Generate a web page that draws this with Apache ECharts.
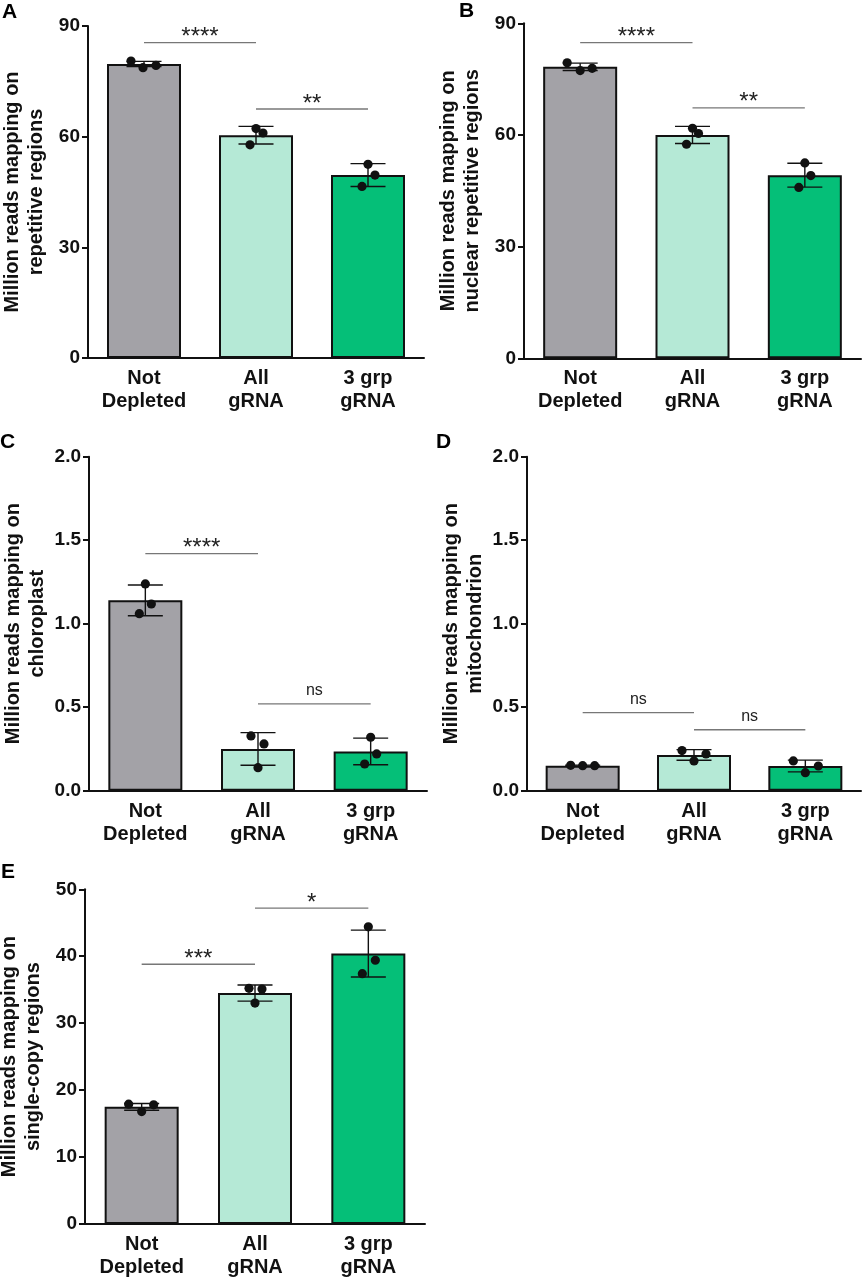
<!DOCTYPE html>
<html lang="en">
<head>
<meta charset="UTF-8" />
<script src="https://cdn.jsdelivr.net/npm/echarts@6/dist/echarts.min.js"></script>
<style>
    html, body { margin: 0; padding: 0; background: #fff; }
    #chart { width: 867px; height: 1280px; }
</style>
</head>
<body>
<div id="chart"></div>
<script>
const categories = ["Not\nDepleted", "All\ngRNA", "3 grp\ngRNA"];

// A - repetitive regions
const meanA = [79.7, 60.4, 49.6];
const sdA = [0.7, 2.4, 3.1];
const pointsA = [[80.5, 78.7, 79.3], [62.2, 61.0, 57.8], [52.5, 49.6, 46.5]];
const sigA = [[0, 1, 85.5], [1, 2, 67.5]];
const sigTextA = ["****", "**"];

// B - nuclear repetitive regions
const meanB = [78.3, 60.0, 49.2];
const sdB = [1.0, 2.3, 3.2];
const pointsB = [[79.4, 77.3, 77.9], [61.8, 60.4, 57.5], [52.5, 49.1, 45.9]];
const sigB = [[0, 1, 84.8], [1, 2, 67.3]];
const sigTextB = ["****", "**"];

// C - chloroplast
const meanC = [1.14, 0.25, 0.235];
const sdC = [0.092, 0.098, 0.08];
const pointsC = [[1.238, 1.118, 1.06], [0.328, 0.28, 0.138], [0.32, 0.22, 0.16]];
const sigC = [[0, 1, 1.42], [1, 2, 0.52]];
const sigTextC = ["****", "ns"];

// D - mitochondrion
const meanD = [0.15, 0.214, 0.148];
const sdD = [0.003, 0.032, 0.035];
const pointsD = [[0.152, 0.15, 0.15], [0.24, 0.22, 0.178], [0.178, 0.148, 0.108]];
const sigD = [[0, 1, 0.467], [1, 2, 0.365]];
const sigTextD = ["ns", "ns"];

// E - single-copy regions
const meanE = [17.5, 34.5, 40.4];
const sdE = [0.5, 1.2, 3.5];
const pointsE = [[17.9, 16.8, 17.8], [35.2, 35.1, 33.0], [44.4, 39.4, 37.4]];
const sigE = [[0, 1, 38.8], [1, 2, 47.2]];
const sigTextE = ["***", "*"];

// horizontal scatter of the dots inside each bar, px
const jitterA = [[-13, -1, 12], [0, 7, -6], [0, 7, -6]];
const jitterB = [[-13, 0, 12], [0, 6, -6], [0, 6, -6]];
const jitterC = [[0, 6, -6], [-7, 6, 0], [0, 6, -6]];
const jitterD = [[-12, 0, 12], [-12, 12, 0], [-12, 13, 0]];
const jitterE = [[-13, 0, 12], [-6, 7, 0], [0, 7, -6]];

const barColors = ["#a3a2a7", "#b5e9d6", "#05bf78"];
const font = "'Liberation Sans', Arial, Helvetica, sans-serif";

const panels = [
    { letter: "A", name: "Million reads mapping on\nrepetitive regions", max: 90, step: 30, dec: 0,
      mean: meanA, sd: sdA, pts: pointsA, jit: jitterA, sig: sigA, sigText: sigTextA,
      box: { left: 88, top: 26, width: 336, height: 332 }, lx: 2, ly: 2 },
    { letter: "B", name: "Million reads mapping on\nnuclear repetitive regions", max: 90, step: 30, dec: 0,
      mean: meanB, sd: sdB, pts: pointsB, jit: jitterB, sig: sigB, sigText: sigTextB,
      box: { left: 524, top: 23.3, width: 337, height: 335 }, lx: 459, ly: 1 },
    { letter: "C", name: "Million reads mapping on\nchloroplast", max: 2, step: 0.5, dec: 1,
      mean: meanC, sd: sdC, pts: pointsC, jit: jitterC, sig: sigC, sigText: sigTextC,
      box: { left: 89, top: 456.7, width: 338, height: 334 }, lx: 0, ly: 432 },
    { letter: "D", name: "Million reads mapping on\nmitochondrion", max: 2, step: 0.5, dec: 1,
      mean: meanD, sd: sdD, pts: pointsD, jit: jitterD, sig: sigD, sigText: sigTextD,
      box: { left: 527, top: 456.7, width: 334, height: 334 }, lx: 436, ly: 432 },
    { letter: "E", name: "Million reads mapping on\nsingle-copy regions", max: 50, step: 10, dec: 0,
      mean: meanE, sd: sdE, pts: pointsE, jit: jitterE, sig: sigE, sigText: sigTextE,
      box: { left: 85, top: 889.3, width: 340, height: 334.7 }, lx: 1, ly: 862 }
];

const chart = echarts.init(document.getElementById("chart"));

const grid = [], xAxis = [], yAxis = [], series = [], graphic = [];

panels.forEach((p, i) => {
    grid.push(Object.assign({ outerBoundsMode: "none", containLabel: false }, p.box));

    xAxis.push({
        type: "category",
        gridIndex: i,
        data: categories,
        axisLine: { lineStyle: { color: "#111", width: 2 } },
        axisTick: { alignWithLabel: true, length: 6, lineStyle: { color: "#111", width: 2 } },
        axisLabel: { color: "#111", fontFamily: font, fontWeight: "bold", fontSize: 20, lineHeight: 23, margin: 9 }
    });

    yAxis.push({
        type: "value",
        gridIndex: i,
        min: 0,
        max: p.max,
        interval: p.step,
        name: p.name,
        nameLocation: "middle",
        nameGap: 40,
        nameTextStyle: { color: "#111", fontFamily: font, fontWeight: "bold", fontSize: 20, lineHeight: 24 },
        splitLine: { show: false },
        axisLine: { show: true, lineStyle: { color: "#111", width: 2 } },
        axisTick: { show: true, length: 6, lineStyle: { color: "#111", width: 2 } },
        axisLabel: {
            color: "#111", fontFamily: font, fontWeight: "bold", fontSize: 19, margin: 8,
            formatter: (v) => v.toFixed(p.dec)
        }
    });

    // bars
    series.push({
        type: "bar",
        xAxisIndex: i,
        yAxisIndex: i,
        barWidth: 74,
        z: 2,
        silent: true,
        itemStyle: { borderColor: "#111", borderWidth: 2 },
        data: p.mean.map((v, k) => ({ value: v, itemStyle: { color: barColors[k] } }))
    });

    // error bars (mean ± SD)
    series.push({
        type: "custom",
        xAxisIndex: i,
        yAxisIndex: i,
        z: 3,
        silent: true,
        encode: { x: 0, y: [1, 2] },
        data: p.mean.map((m, k) => [k, m - p.sd[k], m + p.sd[k]]),
        renderItem: (params, api) => {
            const lo = api.coord([api.value(0), api.value(1)]);
            const hi = api.coord([api.value(0), api.value(2)]);
            const hw = 17.5;
            const style = { stroke: "#111", lineWidth: 1.4 };
            return {
                type: "group",
                children: [
                    { type: "line", shape: { x1: lo[0], y1: lo[1], x2: hi[0], y2: hi[1] }, style },
                    { type: "line", shape: { x1: lo[0] - hw, y1: lo[1], x2: lo[0] + hw, y2: lo[1] }, style },
                    { type: "line", shape: { x1: hi[0] - hw, y1: hi[1], x2: hi[0] + hw, y2: hi[1] }, style }
                ]
            };
        }
    });

    // individual replicates
    const dots = [];
    p.pts.forEach((arr, k) => arr.forEach((v, j) => dots.push([k, v, p.jit[k][j]])));
    series.push({
        type: "custom",
        xAxisIndex: i,
        yAxisIndex: i,
        z: 4,
        silent: true,
        encode: { x: 0, y: 1 },
        data: dots,
        renderItem: (params, api) => {
            const c = api.coord([api.value(0), api.value(1)]);
            return { type: "circle", shape: { cx: c[0] + api.value(2), cy: c[1], r: 4.6 }, style: { fill: "#111" } };
        }
    });

    // significance lines
    series.push({
        type: "custom",
        xAxisIndex: i,
        yAxisIndex: i,
        z: 5,
        silent: true,
        encode: { x: [0, 1], y: 2 },
        data: p.sig,
        renderItem: (params, api) => {
            const a = api.coord([api.value(0), api.value(2)]);
            const b = api.coord([api.value(1), api.value(2)]);
            const label = p.sigText[params.dataIndex];
            const star = label.indexOf("*") >= 0;
            return {
                type: "group",
                children: [
                    { type: "line", shape: { x1: a[0], y1: a[1], x2: b[0], y2: b[1] }, style: { stroke: "#777", lineWidth: 1.3 } },
                    {
                        type: "text",
                        x: (a[0] + b[0]) / 2,
                        y: a[1] + (star ? -5 : -13.5),
                        style: {
                            text: label, fill: "#222", fontFamily: font,
                            fontSize: star ? 24 : 16, align: "center", verticalAlign: "middle"
                        }
                    }
                ]
            };
        }
    });

    graphic.push({
        type: "text", left: p.lx, top: p.ly,
        style: { text: p.letter, fill: "#000", font: "bold 21px " + font }
    });
});

chart.setOption({
    animation: false,
    backgroundColor: "#fff",
    grid: grid,
    xAxis: xAxis,
    yAxis: yAxis,
    series: series,
    graphic: graphic
});
</script>
</body>
</html>
